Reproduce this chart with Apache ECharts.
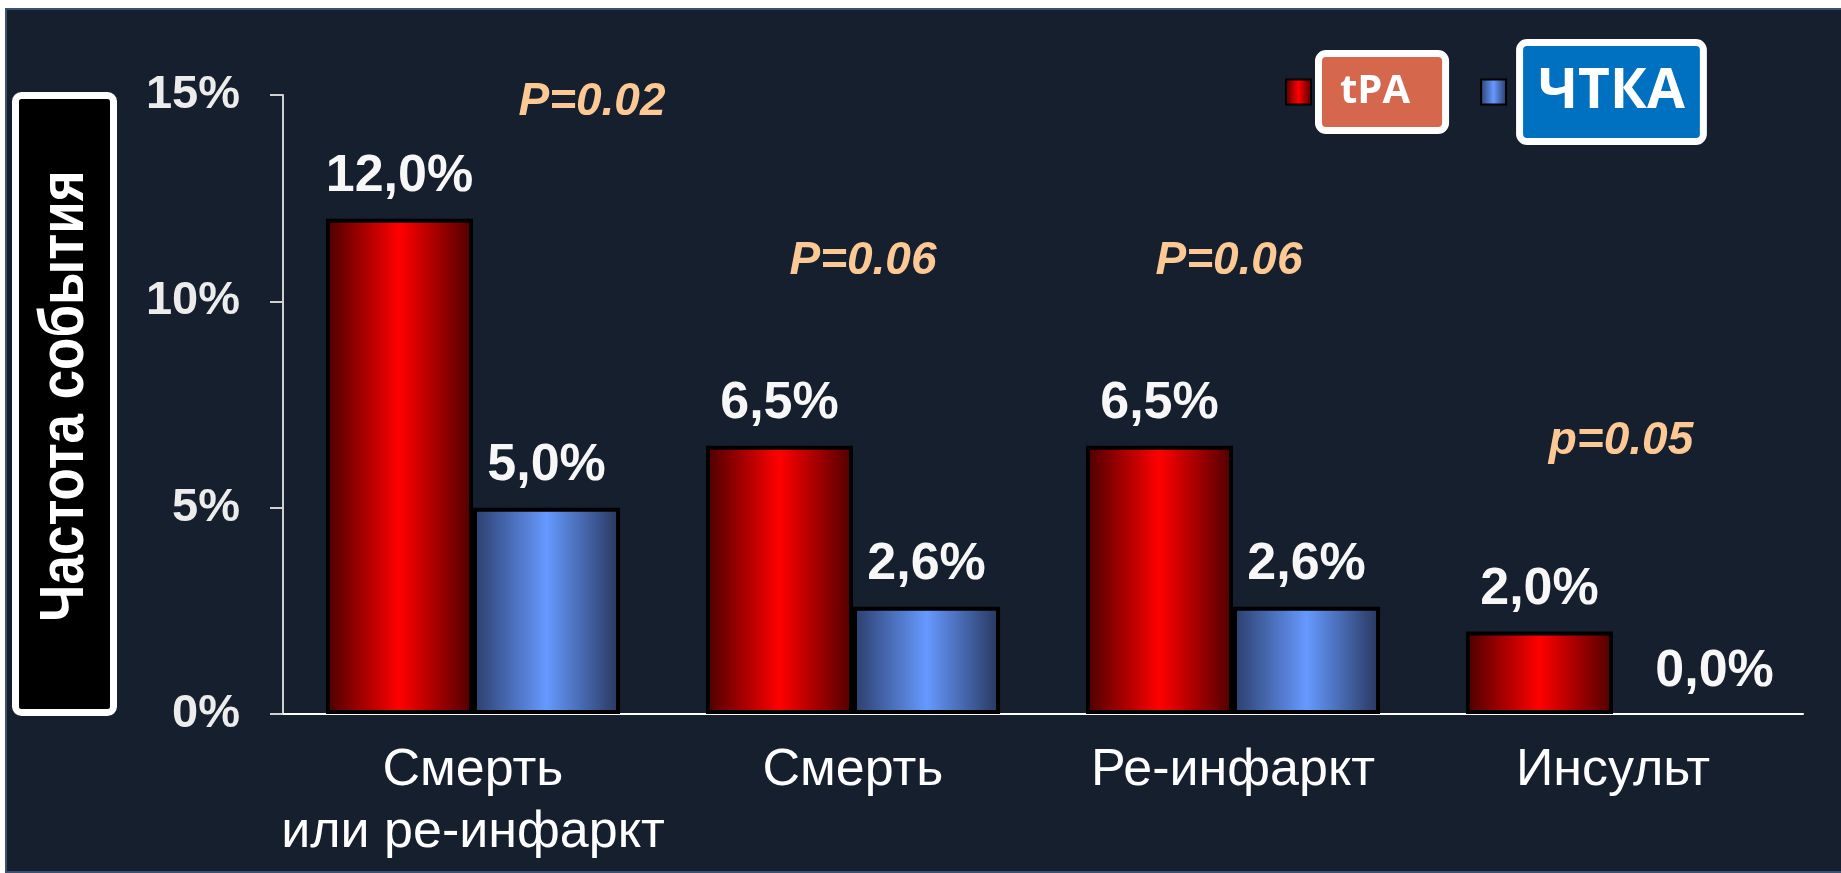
<!DOCTYPE html>
<html>
<head>
<meta charset="utf-8">
<script src="https://cdn.jsdelivr.net/npm/echarts@6/dist/echarts.min.js"></script>
<style>
  html, body { margin: 0; padding: 0; background: #ffffff; width: 100%; height: 100%; overflow: hidden; }
  #panel { position: absolute; left: 5px; top: 8px; right: 0; bottom: 0; background: #161f2d; border: 2px solid #3c5170; border-right: none; }
  #chart { position: absolute; left: 0; top: 0; width: 1841px; height: 873px; }
</style>
</head>
<body>
<div id="panel"></div>
<div id="chart"></div>
<script>
// --- data ---
const categories = ['Смерть\nили ре-инфаркт', 'Смерть', 'Ре-инфаркт', 'Инсульт'];
const seriesNames = ['tPA', 'ЧТКА'];
const tpaValues = [12.0, 6.5, 6.5, 2.0];
const ptcaValues = [5.0, 2.6, 2.6, 0.0];
const yMin = 0, yMax = 15, yStep = 5;
const pLabels = ['P=0.02', 'P=0.06', 'P=0.06', 'p=0.05'];
const yTitle = 'Частота события';

const chart = echarts.init(document.getElementById('chart'));

function grad(edge1, mid, edge2) {
  return new echarts.graphic.LinearGradient(0, 0, 1, 0, [
    { offset: 0, color: edge1 },
    { offset: 0.5, color: mid },
    { offset: 1, color: edge2 }
  ]);
}

const valueLabel = {
  show: true,
  position: 'top',
  distance: 16,
  color: '#f7f7f7',
  fontSize: 52,
  fontWeight: 'bold',
  fontFamily: 'Liberation Sans, Arial, sans-serif',
  formatter: p => p.value.toFixed(1).replace('.', ',') + '%'
};

// zero-height bars: no outline, label nudged right like the original
function barData(values) {
  return values.map(v => v === 0
    ? { value: v, itemStyle: { borderWidth: 0 }, label: { offset: [28, 0] } }
    : v);
}

// p-value annotations (text only, placed over the plot)
const pPos = [[592, 102], [863, 261], [1229, 261], [1621, 441]];
const pTexts = pLabels.map((t, i) => ({
  type: 'text',
  x: pPos[i][0],
  y: pPos[i][1],
  style: {
    text: t,
    fill: '#fcc893',
    font: 'italic bold 46px "Liberation Sans", Arial, sans-serif',
    align: 'center',
    verticalAlign: 'middle'
  }
}));

const option = {
  animation: false,
  backgroundColor: 'transparent',
  grid: { left: 283, right: 38, top: 95, bottom: 159 },
  legend: {
    left: 1280,
    top: 34,
    icon: 'rect',
    itemWidth: 25,
    itemHeight: 25,
    itemGap: 31,
    selectedMode: false,
    data: seriesNames,
    formatter: name => name === seriesNames[0] ? '{s1|}{a|' + name + '}' : '{s2|}{b|' + name + '}',
    textStyle: {
      color: '#ffffff',
      fontWeight: 'bold',
      fontFamily: 'Open Sans, sans-serif',
      rich: {
        s1: { width: 6, height: 10 },
        s2: { width: 12, height: 10 },
        a: {
          fontSize: 40, lineHeight: 40, color: '#ffffff', fontWeight: 'bold', fontFamily: 'Open Sans, sans-serif',
          backgroundColor: '#d4674c', borderColor: '#ffffff', borderWidth: 7, borderRadius: 4,
          padding: [15, 32, 15, 18]
        },
        b: {
          fontSize: 55, lineHeight: 55, color: '#ffffff', fontWeight: 'bold', fontFamily: 'Open Sans, sans-serif',
          backgroundColor: '#0070c0', borderColor: '#ffffff', borderWidth: 7, borderRadius: 4,
          padding: [19, 15, 18, 15]
        }
      }
    }
  },
  xAxis: {
    type: 'category',
    data: categories,
    axisLine: { lineStyle: { color: '#ffffff', width: 2 } },
    axisTick: { show: false },
    axisLabel: {
      color: '#ffffff',
      fontSize: 52,
      lineHeight: 62,
      margin: 26,
      interval: 0,
      fontFamily: 'Liberation Sans, Arial, sans-serif'
    }
  },
  yAxis: {
    type: 'value',
    min: yMin,
    max: yMax,
    interval: yStep,
    splitLine: { show: false },
    axisLine: { show: true, lineStyle: { color: '#d0d0d0', width: 2 } },
    axisTick: { show: true, length: 13, lineStyle: { color: '#d0d0d0', width: 2 } },
    axisLabel: {
      color: '#ececec',
      fontSize: 47,
      fontWeight: 'bold',
      margin: 43,
      fontFamily: 'Liberation Sans, Arial, sans-serif',
      formatter: '{value}%'
    }
  },
  series: [
    {
      name: seriesNames[0],
      type: 'bar',
      data: barData(tpaValues),
      barGap: '0%',
      barCategoryGap: '22.6%',
      itemStyle: { color: grad('#4a0000', '#ff0000', '#4d0000'), borderColor: '#000000', borderWidth: 4 },
      label: valueLabel
    },
    {
      name: seriesNames[1],
      type: 'bar',
      data: barData(ptcaValues),
      itemStyle: { color: grad('#2b3d6a', '#6699ff', '#27365c'), borderColor: '#000000', borderWidth: 4 },
      label: valueLabel
    }
  ],
  graphic: [
    {
      type: 'rect',
      shape: { x: 15.5, y: 95.5, width: 98, height: 617, r: 6 },
      style: { fill: '#000000', stroke: '#ffffff', lineWidth: 7 }
    },
    {
      type: 'text',
      x: 66,
      y: 396,
      rotation: Math.PI / 2,
      scaleX: 0.84,
      style: {
        text: yTitle,
        fill: '#ffffff',
        font: 'bold 63px "Liberation Sans", Arial, sans-serif',
        align: 'center',
        verticalAlign: 'middle'
      }
    }
  ].concat(pTexts)
};

chart.setOption(option);
window.onresize = function () { chart.resize(); };
</script>
</body>
</html>
